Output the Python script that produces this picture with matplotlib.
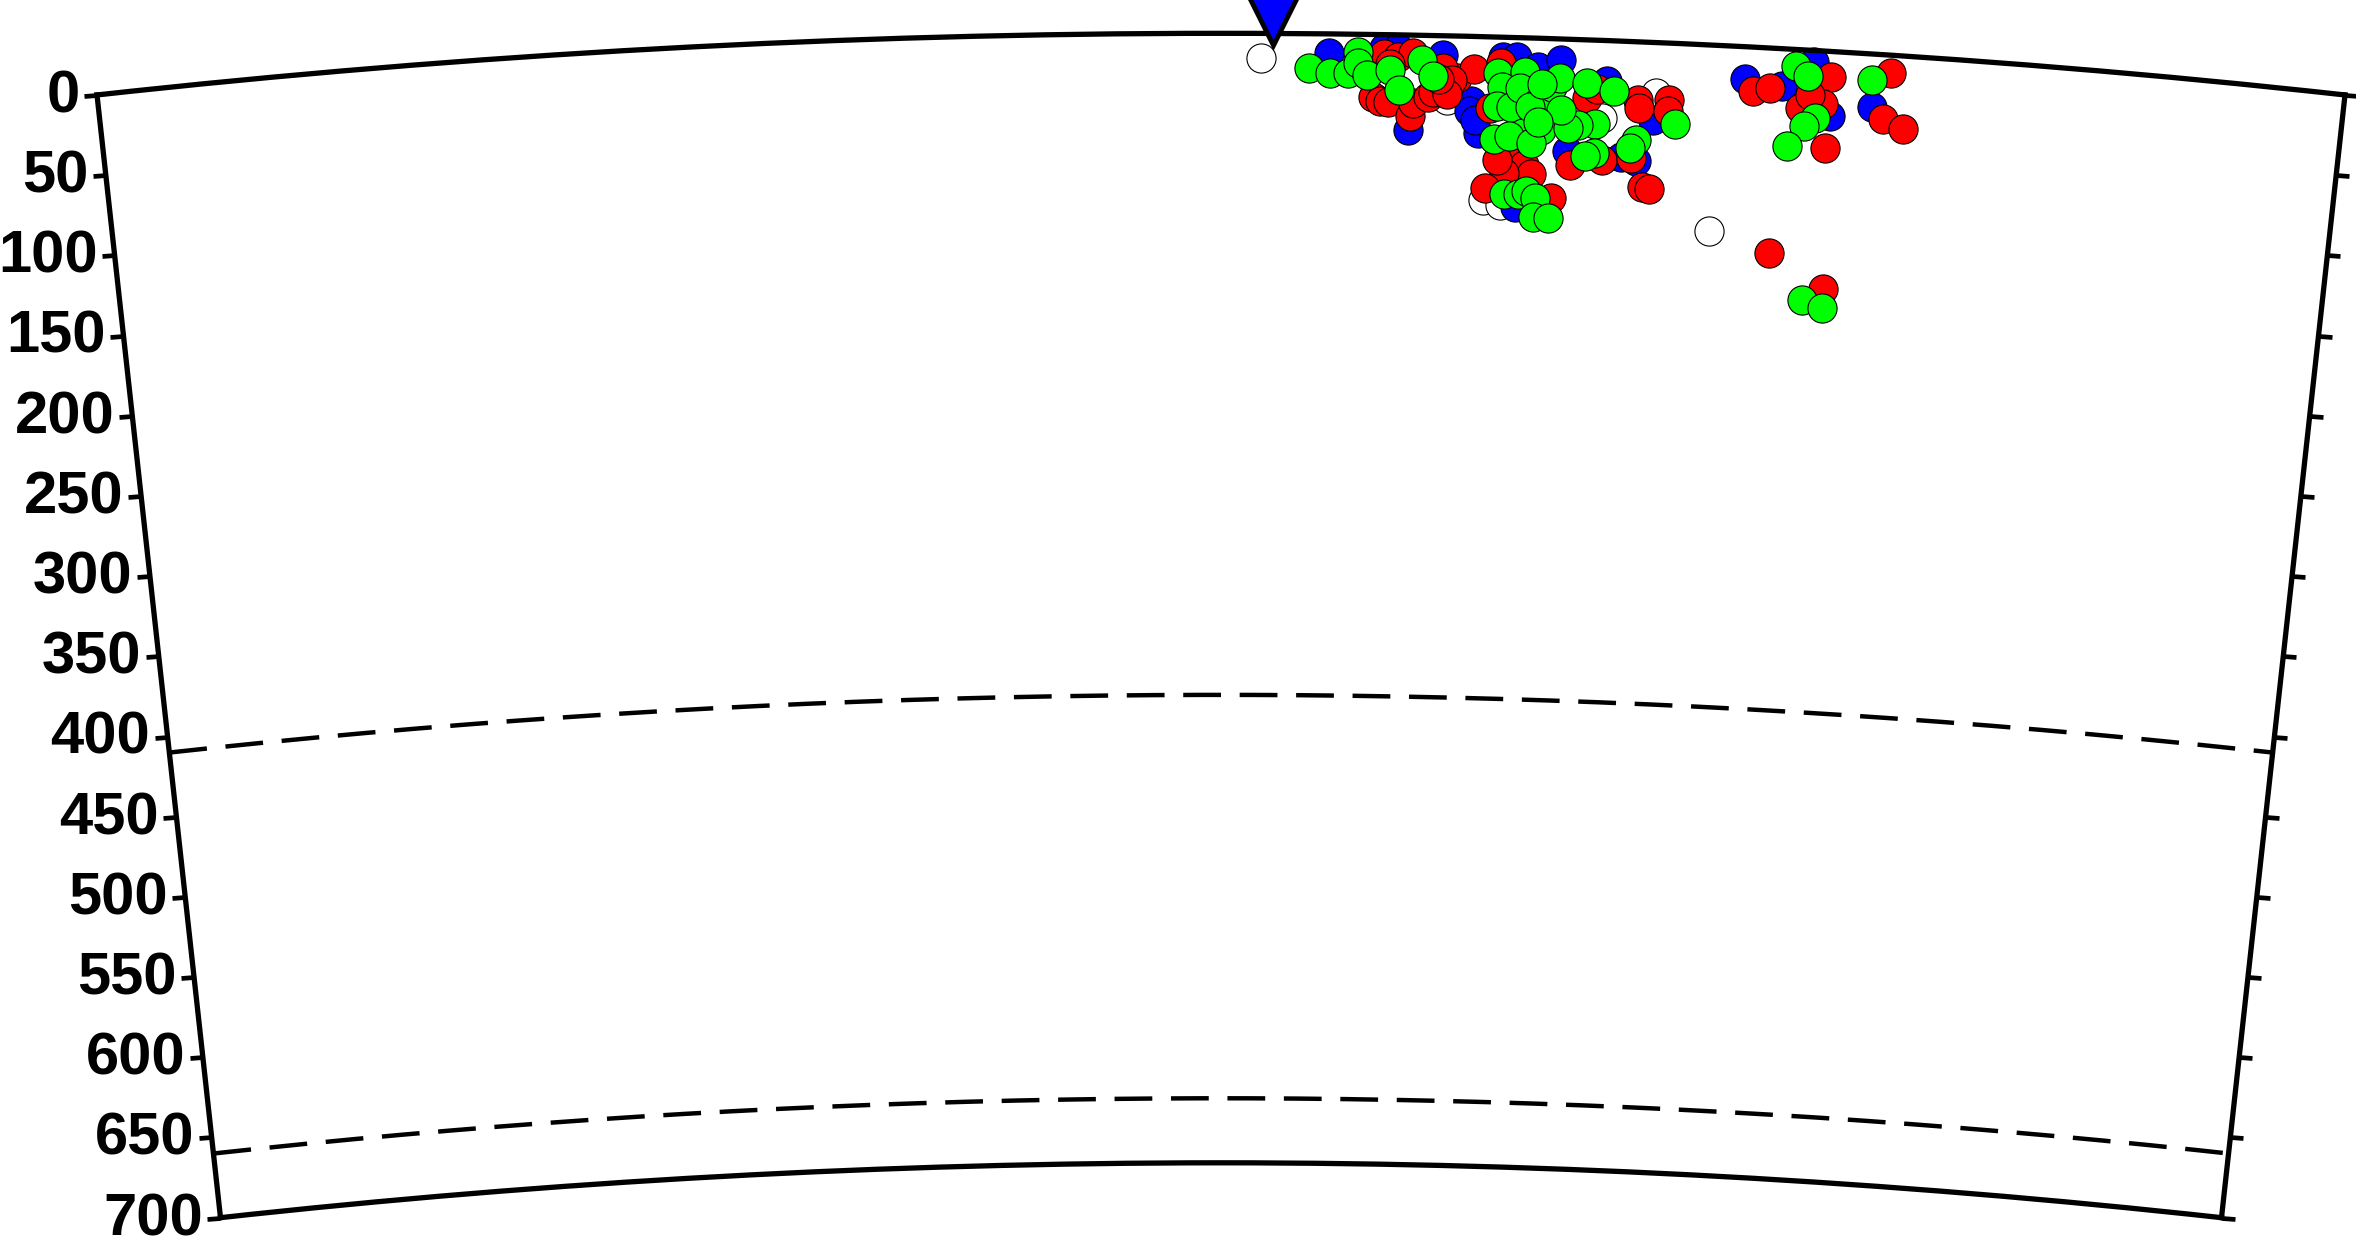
import numpy as np
import matplotlib
matplotlib.use('Agg')
import matplotlib.pyplot as plt

plt.rcParams['font.family'] = ['Liberation Sans', 'DejaVu Sans']
plt.rcParams['font.weight'] = 'bold'

R_EARTH = 6371.0
PROFILE_KM = 1396.0      # length of the section along the surface
MAX_DEPTH = 700

depth_ticks = list(range(0, 701, 50))
discontinuities = [410, 660]

station_dist = 730

# events: distance along profile (km), depth (km)
white_dist = [723, 839, 936, 969, 863, 874, 1006]
white_depth = [15, 40, 48, 31, 101, 104, 115]

blue_dist = [765, 799, 808, 836, 815, 854, 853, 859, 857, 873, 882, 895, 909, 915,
             938, 968, 949, 1024, 1047, 1078, 1104, 1066, 883, 958]
blue_depth = [12, 8, 8, 12, 59, 40, 46, 60, 52, 12, 12, 18, 13, 69,
              25, 48, 72, 20, 23, 40, 33, 7, 105, 74]

red_dist = [799, 808, 817, 793, 797, 802, 816, 818, 827, 830, 845, 836, 855, 842,
            839, 872, 926, 932, 958, 959, 977, 977, 917, 937, 955, 878, 888, 893,
            876, 864, 906, 963, 967, 1045, 1029, 1040, 1077, 1059, 1073, 1065, 1076,
            1114, 1111, 1124, 1080, 866, 803, 834, 871]
red_depth = [12, 14, 11, 39, 41, 42, 50, 42, 38, 35, 26, 20, 20, 27,
             36, 16, 36, 30, 36, 41, 35, 42, 78, 74, 72, 76, 79, 84,
             84, 94, 99, 90, 91, 127, 27, 25, 16, 36, 33, 28, 60,
             11, 40, 45, 147, 44, 18, 27, 76]

green_dist = [753, 766, 777, 783, 783, 789, 803, 809, 823, 830, 870, 873, 870, 879,
              887, 884, 895, 906, 904, 909, 926, 943, 932, 921, 898, 887, 869, 878,
              892, 932, 958, 954, 982, 876, 885, 890, 896, 895, 904, 915, 910, 891,
              1055, 1063, 1069, 1062, 1052, 1103, 1067, 1080, 926, 896, 898]
green_depth = [21, 24, 24, 11, 18, 25, 22, 34, 15, 25, 22, 31, 43, 43,
               21, 31, 40, 43, 30, 24, 27, 31, 52, 53, 57, 59, 63, 61,
               65, 70, 61, 66, 50, 97, 97, 95, 99, 111, 111, 55, 44, 43,
               10, 16, 42, 47, 60, 16, 155, 159, 72, 52, 28]


def to_theta(d):
    return np.asarray(d, dtype=float) / R_EARTH


def to_r(z):
    return R_EARTH - np.asarray(z, dtype=float)


W, H = 2356, 1246
fig = plt.figure(figsize=(W / 100, H / 100), dpi=100)
side = 2248
ax = fig.add_axes([97 / W, (620.5 - side / 2) / H, side / W, side / H], projection='polar')

half_deg = np.degrees(PROFILE_KM / 2 / R_EARTH)
ax.set_theta_zero_location('N', offset=half_deg)
ax.set_theta_direction(-1)
ax.set_thetamin(0)
ax.set_thetamax(2 * half_deg)
ax.set_rorigin(0)
ax.set_rlim(R_EARTH - MAX_DEPTH, R_EARTH)
ax.grid(False)
ax.set_xticks([])

ax.set_yticks(to_r(depth_ticks))
ax.set_yticklabels([str(d) for d in depth_ticks])
ax.tick_params(axis='y', direction='out', length=9.5, width=3.4, labelsize=43, pad=3,
               left=True, right=True, labelleft=True, labelright=False)
for s in ax.spines.values():
    s.set_linewidth(3.8)
    s.set_color('black')

# 410 / 660 km discontinuities
th = np.linspace(0, PROFILE_KM / R_EARTH, 300)
for z in discontinuities:
    ax.plot(th, np.full_like(th, R_EARTH - z), color='black', lw=3.2, dashes=(8.5, 4.2))

kw = dict(linestyle='none', marker='o', ms=21, mec='black', mew=0.8, clip_on=False)
ax.plot(to_theta(white_dist), to_r(white_depth), mfc='white', **kw)
ax.plot(to_theta(blue_dist), to_r(blue_depth), mfc='#0000ff', **kw)
ax.plot(to_theta(red_dist), to_r(red_depth), mfc='#ff0000', **kw)
ax.plot(to_theta(green_dist), to_r(green_depth), mfc='#00ff00', **kw)

# station
ax.plot(to_theta([station_dist]), [R_EARTH + 12], marker='v', ms=44, mfc='#0000ff',
        mec='black', mew=3.5, clip_on=False, zorder=5)

fig.savefig('out.png', dpi=100)
